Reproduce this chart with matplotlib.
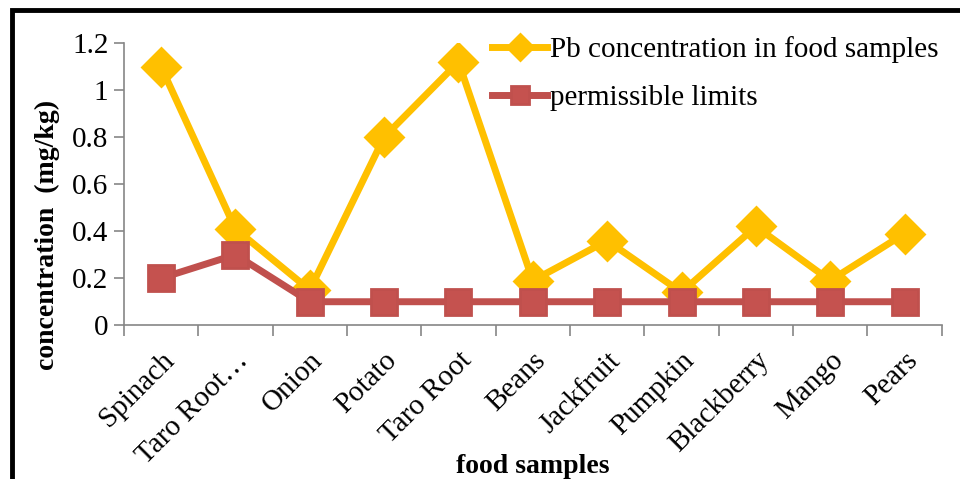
import matplotlib.pyplot as plt
import numpy as np
from matplotlib.patches import Rectangle

# data
foods = ["Spinach", "Taro Root…", "Onion", "Potato", "Taro Root", "Beans",
         "Jackfruit", "Pumpkin", "Blackberry", "Mango", "Pears"]
pb_conc = [1.10, 0.41, 0.15, 0.80, 1.12, 0.19, 0.36, 0.14, 0.42, 0.19, 0.39]
limits = [0.2, 0.3, 0.1, 0.1, 0.1, 0.1, 0.1, 0.1, 0.1, 0.1, 0.1]
y_ticks = [0, 0.2, 0.4, 0.6, 0.8, 1, 1.2]
y_tick_labels = ["0", "0.2", "0.4", "0.6", "0.8", "1", "1.2"]

plt.rcParams['font.family'] = ['Liberation Serif', 'DejaVu Serif']

fig = plt.figure(figsize=(9.6, 4.79), dpi=100)
ax = fig.add_axes([0.129, 0.321, 0.852, 0.589])

x = np.arange(len(foods))
ax.plot(x, pb_conc, color="#FFC000", lw=5, marker="D", ms=19,
        mec="#FFC000", mfc="#FFC000", mew=2, solid_joinstyle="round",
        label="Pb concentration in food samples", zorder=3)
ax.plot(x, limits, color="#C0504D", lw=5, marker="s", ms=19,
        mec="#C0504D", mfc="#C5524F", mew=2, solid_joinstyle="round",
        label="permissible limits", zorder=4)

ax.set_xlim(-0.5, len(foods) - 0.5)
ax.set_ylim(0, 1.2)
ax.set_yticks(y_ticks)
ax.set_yticklabels(y_tick_labels, fontsize=21)

# Excel style: ticks between categories, labels at centers
ax.set_xticks(np.arange(-0.5, len(foods)))
ax.set_xticklabels([])
ax.set_xticks(x, minor=True)
ax.set_xticklabels(foods, minor=True, rotation=45, ha="right",
                   rotation_mode="anchor", fontsize=21)
ax.tick_params(axis="x", which="minor", length=0, pad=16)
ax.tick_params(axis="x", which="major", length=8, color="#868686", width=1.2)
ax.tick_params(axis="y", length=7, color="#868686", width=1.2, pad=4)

for s in ["top", "right"]:
    ax.spines[s].set_visible(False)
for s in ["left", "bottom"]:
    ax.spines[s].set_color("#868686")
    ax.spines[s].set_linewidth(1.2)

ax.set_ylabel("concentration  (mg/kg)", fontsize=20, fontweight="bold")
ax.yaxis.set_label_coords(-0.078, 0.32)
fig.text(0.555, 0.012, "food samples", fontsize=20, fontweight="bold", ha="center")

leg = ax.legend(loc="upper left", bbox_to_anchor=(0.418, 1.118), frameon=False,
                fontsize=21, handlelength=1.9, handletextpad=0.1,
                labelspacing=0.75, markerscale=0.68)

# outer chart border (cropped on right and bottom)
fig.patches.append(Rectangle((12 / 960, -0.1), 1.2, 1.1 - 10 / 479,
                             transform=fig.transFigure, fill=False,
                             lw=3.5, ec="black"))

fig.savefig("out.png", dpi=100)
